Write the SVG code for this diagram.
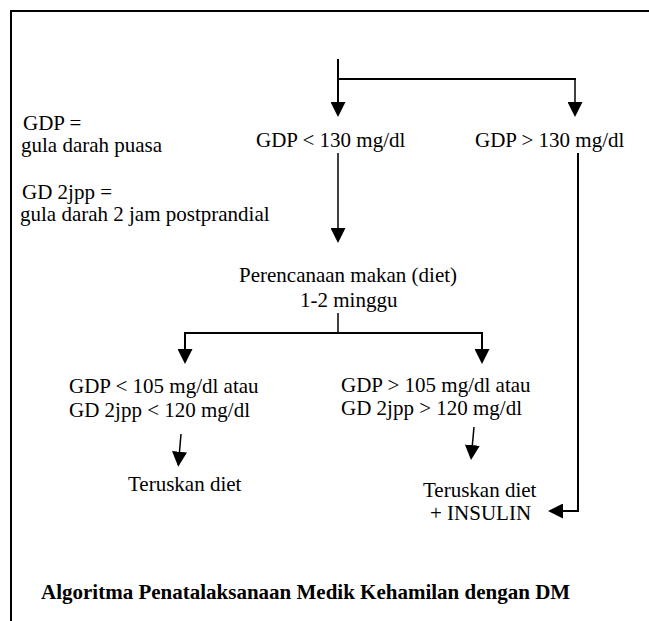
<svg xmlns="http://www.w3.org/2000/svg" width="649" height="621" viewBox="0 0 649 621">
<style>
text{font-family:"Liberation Serif","Times New Roman",Times,Tinos,"DejaVu Serif",serif;font-size:21px;font-weight:normal;fill:#000}
.t{font-weight:bold}
.ln{fill:none;stroke:#000;stroke-width:2}
.thin{stroke-width:1.5}
</style>
<defs>
<marker id="ah" markerUnits="userSpaceOnUse" markerWidth="15" markerHeight="15" refX="13" refY="7.5" orient="auto">
<path d="M0,0 L15,7.5 L0,15 Z" fill="#000"/>
</marker>
</defs>
<rect width="649" height="621" fill="#fff"/>
<g id="frame"><path class="ln" d="M11,621 V11 H649"/></g>
<g id="connectors">
<path class="ln" d="M338,59 V115" marker-end="url(#ah)"/>
<path class="ln" d="M338,79 H576"/>
<path class="ln thin" d="M575,79 V115" marker-end="url(#ah)"/>
<path class="ln thin" d="M338,153 V241" marker-end="url(#ah)"/>
<path class="ln" d="M578,153 V511 H550" marker-end="url(#ah)"/>
<path class="ln thin" d="M338,313 V333"/>
<path class="ln" d="M185,362 V333 H482 V362" marker-end="url(#ah)"/>
<path class="ln" d="M185,334 V362" marker-end="url(#ah)"/>
<path class="ln thin" d="M181,434 L178.4,464.7" marker-end="url(#ah)"/>
<path class="ln thin" d="M474,427 L471.2,458" marker-end="url(#ah)"/>
</g>
<g id="legend">
<text x="23" y="130">GDP =</text>
<text x="21" y="152">gula darah puasa</text>
<text x="22" y="199">GD 2jpp =</text>
<text x="20" y="221">gula darah 2 jam postprandial</text>
</g>
<g id="n-gdp-low"><text x="256" y="147">GDP &lt; 130 mg/dl</text></g>
<g id="n-gdp-high"><text x="475" y="147">GDP &gt; 130 mg/dl</text></g>
<g id="n-diet">
<text x="239" y="282">Perencanaan makan (diet)</text>
<text x="300" y="307">1-2 minggu</text>
</g>
<g id="n-ok">
<text x="69" y="393">GDP &lt; 105 mg/dl atau</text>
<text x="69" y="417">GD 2jpp &lt; 120 mg/dl</text>
</g>
<g id="n-high">
<text x="341" y="392">GDP &gt; 105 mg/dl atau</text>
<text x="341" y="415">GD 2jpp &gt; 120 mg/dl</text>
</g>
<g id="n-continue"><text x="128" y="491">Teruskan diet</text></g>
<g id="n-insulin">
<text x="423" y="497">Teruskan diet</text>
<text x="430" y="520">+ INSULIN</text>
</g>
<g id="caption"><text class="t" x="41" y="599">Algoritma Penatalaksanaan Medik Kehamilan dengan DM</text></g>
</svg>
